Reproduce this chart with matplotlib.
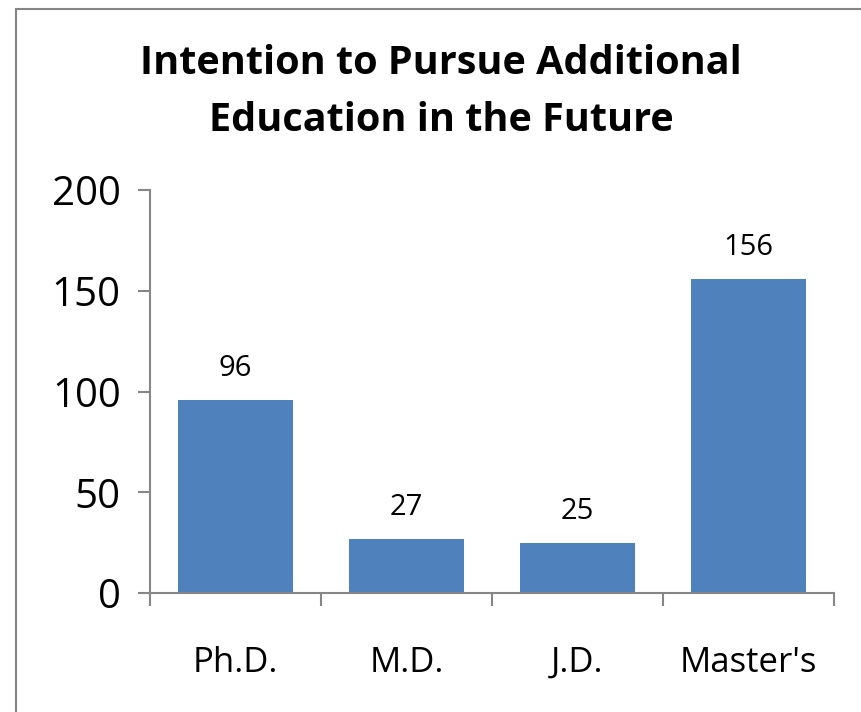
import matplotlib.pyplot as plt
from matplotlib.patches import Rectangle

categories = ["Ph.D.", "M.D.", "J.D.", "Master's"]
counts = [96, 27, 25, 156]
y_ticks = [0, 50, 100, 150, 200]

plt.rcParams['font.family'] = ['Open Sans', 'DejaVu Sans']

fig = plt.figure(figsize=(8.61, 7.12), dpi=100)
ax = fig.add_axes([150 / 861, 1 - 593 / 712, 684 / 861, 403 / 712])

# chart area border
fig.patches.append(Rectangle((16 / 861, -0.1), 1.0, 1 - 9 / 712 + 0.1,
                             transform=fig.transFigure, fill=False,
                             edgecolor='#868686', linewidth=1.5))

x = range(len(categories))
bars = ax.bar(x, counts, width=0.667, color='#4F81BD')
for b, v in zip(bars, counts):
    ax.annotate(str(v), (b.get_x() + b.get_width() / 2, v),
                xytext=(0, 12), textcoords='offset points',
                ha='center', va='bottom', fontsize=21)

ax.set_xlim(-0.5, len(categories) - 0.5)
ax.set_ylim(0, 200)
ax.set_yticks(y_ticks)
ax.set_yticklabels([str(t) for t in y_ticks], fontsize=29)
ax.set_xticks([i - 0.5 for i in range(len(categories) + 1)], minor=False)
ax.set_xticklabels([])
ax.set_xticks(list(x), minor=True)
ax.set_xticklabels(categories, minor=True, fontsize=25)
ax.tick_params(axis='x', which='minor', length=0, pad=38)
ax.tick_params(axis='x', which='major', length=9, color='#868686', width=1.5)
ax.tick_params(axis='y', length=9, color='#868686', width=1.5, pad=12)

for s in ['top', 'right']:
    ax.spines[s].set_visible(False)
for s in ['left', 'bottom']:
    ax.spines[s].set_color('#868686')
    ax.spines[s].set_linewidth(1.5)

fig.text(441 / 861, 1 - 92 / 712,
         "Intention to Pursue Additional\nEducation in the Future",
         ha='center', va='center', fontsize=28.5, fontweight='bold',
         linespacing=1.6)

fig.savefig("out.png", dpi=100)
